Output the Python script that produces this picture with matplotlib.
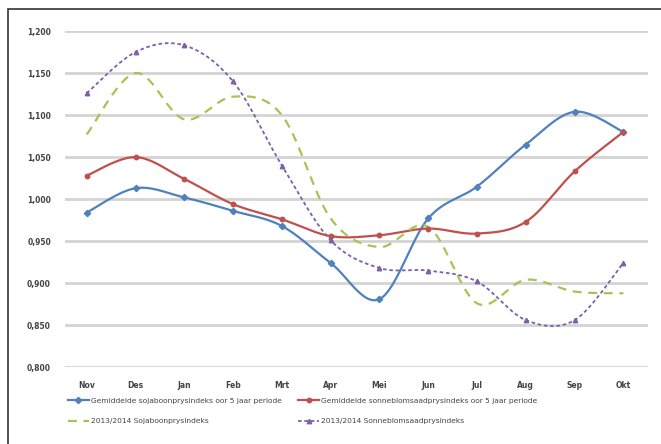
import numpy as np
import matplotlib
matplotlib.use('Agg')
import matplotlib.pyplot as plt
from matplotlib.ticker import FuncFormatter
from matplotlib.patches import Rectangle

maande = ['Nov', 'Des', 'Jan', 'Feb', 'Mrt', 'Apr', 'Mei', 'Jun', 'Jul', 'Aug', 'Sep', 'Okt']

soja_gem = [0.984, 1.013, 1.002, 0.986, 0.968, 0.924, 0.881, 0.977, 1.015, 1.065, 1.104, 1.080]
sonneblom_gem = [1.028, 1.050, 1.024, 0.994, 0.976, 0.956, 0.957, 0.965, 0.959, 0.973, 1.033, 1.080]
soja_1314 = [1.077, 1.150, 1.095, 1.122, 1.100, 0.977, 0.943, 0.967, 0.876, 0.904, 0.890, 0.888]
sonneblom_1314 = [1.126, 1.175, 1.183, 1.140, 1.040, 0.951, 0.918, 0.915, 0.902, 0.856, 0.856, 0.924]

labels = ['Gemiddelde sojaboonprysindeks oor 5 jaar periode',
          'Gemiddelde sonneblomsaadprysindeks oor 5 jaar periode',
          '2013/2014 Sojaboonprysindeks',
          '2013/2014 Sonneblomsaadprysindeks']


def smooth(x, y, n=30):
    # excel-like smoothed line: bezier segments, control points at 1/6 of neighbour diff
    x = np.asarray(x, float)
    y = np.asarray(y, float)
    px = np.concatenate([[x[0]], x, [x[-1]]])
    py = np.concatenate([[y[0]], y, [y[-1]]])
    t = np.linspace(0, 1, n)
    xs, ys = [], []
    for i in range(1, len(px) - 2):
        p0 = np.array([px[i], py[i]])
        p3 = np.array([px[i + 1], py[i + 1]])
        c1 = p0 + (np.array([px[i + 1], py[i + 1]]) - np.array([px[i - 1], py[i - 1]])) / 6
        c2 = p3 - (np.array([px[i + 2], py[i + 2]]) - np.array([px[i], py[i]])) / 6
        b = ((1 - t) ** 3)[:, None] * p0 + (3 * (1 - t) ** 2 * t)[:, None] * c1 \
            + (3 * (1 - t) * t ** 2)[:, None] * c2 + (t ** 3)[:, None] * p3
        xs.append(b[:, 0])
        ys.append(b[:, 1])
    return np.concatenate(xs), np.concatenate(ys)


fig = plt.figure(figsize=(6.61, 4.44), dpi=100)
ax = fig.add_axes([0.098, 0.173, 0.882, 0.757])

x = np.arange(len(maande))
series = [
    (soja_gem, '#4F81BD', '-', 'D', 1.6),
    (sonneblom_gem, '#C0504D', '-', 'o', 1.6),
    (soja_1314, '#A9C255', (0, (4, 3)), None, 1.6),
    (sonneblom_1314, '#7E5FA8', (0, (2, 1.5)), '^', 1.3),
]
handles = []
for (vals, col, ls, mk, lw), lab in zip(series, labels):
    sx, sy = smooth(x, vals)
    ax.plot(sx, sy, color=col, linestyle=ls, linewidth=lw, zorder=3)
    if mk:
        ax.plot(x, vals, linestyle='none', marker=mk, markersize=3.2, color=col, zorder=4)
    h, = ax.plot([], [], color=col, linestyle=ls, linewidth=lw, marker=mk, markersize=3.2, label=lab)
    handles.append(h)

ax.set_xlim(-0.45, 11.5)
ax.set_ylim(0.8, 1.2)
ax.set_yticks(np.arange(0.8, 1.2001, 0.05))
ax.yaxis.set_major_formatter(FuncFormatter(lambda v, p: ('%.3f' % v).replace('.', ',')))
ax.set_xticks(x)
ax.set_xticklabels(maande)
ax.grid(True, axis='y', color='#D4D4D4', linewidth=2)
ax.set_axisbelow(True)
for s in ['top', 'right', 'left', 'bottom']:
    ax.spines[s].set_visible(False)
ax.tick_params(axis='both', length=0, labelsize=5.5, labelcolor='#444444', pad=10)
for t in ax.get_xticklabels() + ax.get_yticklabels():
    t.set_fontweight('bold')

# legend fills column-wise: blue, green | red, purple
order = [0, 2, 1, 3]
fig.legend(handles=[handles[i] for i in order], loc='upper left', bbox_to_anchor=(0.092, 0.12), ncol=2,
           frameon=False, fontsize=5.4, columnspacing=2.2, handlelength=2.8,
           handletextpad=0.3, labelspacing=1.9, labelcolor='#444444')

fig.patches.append(Rectangle((8 / 661, -0.1), 1.1, 1.1 - 9 / 444, transform=fig.transFigure,
                             fill=False, edgecolor='#333333', linewidth=1.2))

fig.savefig('out.png', dpi=100)
